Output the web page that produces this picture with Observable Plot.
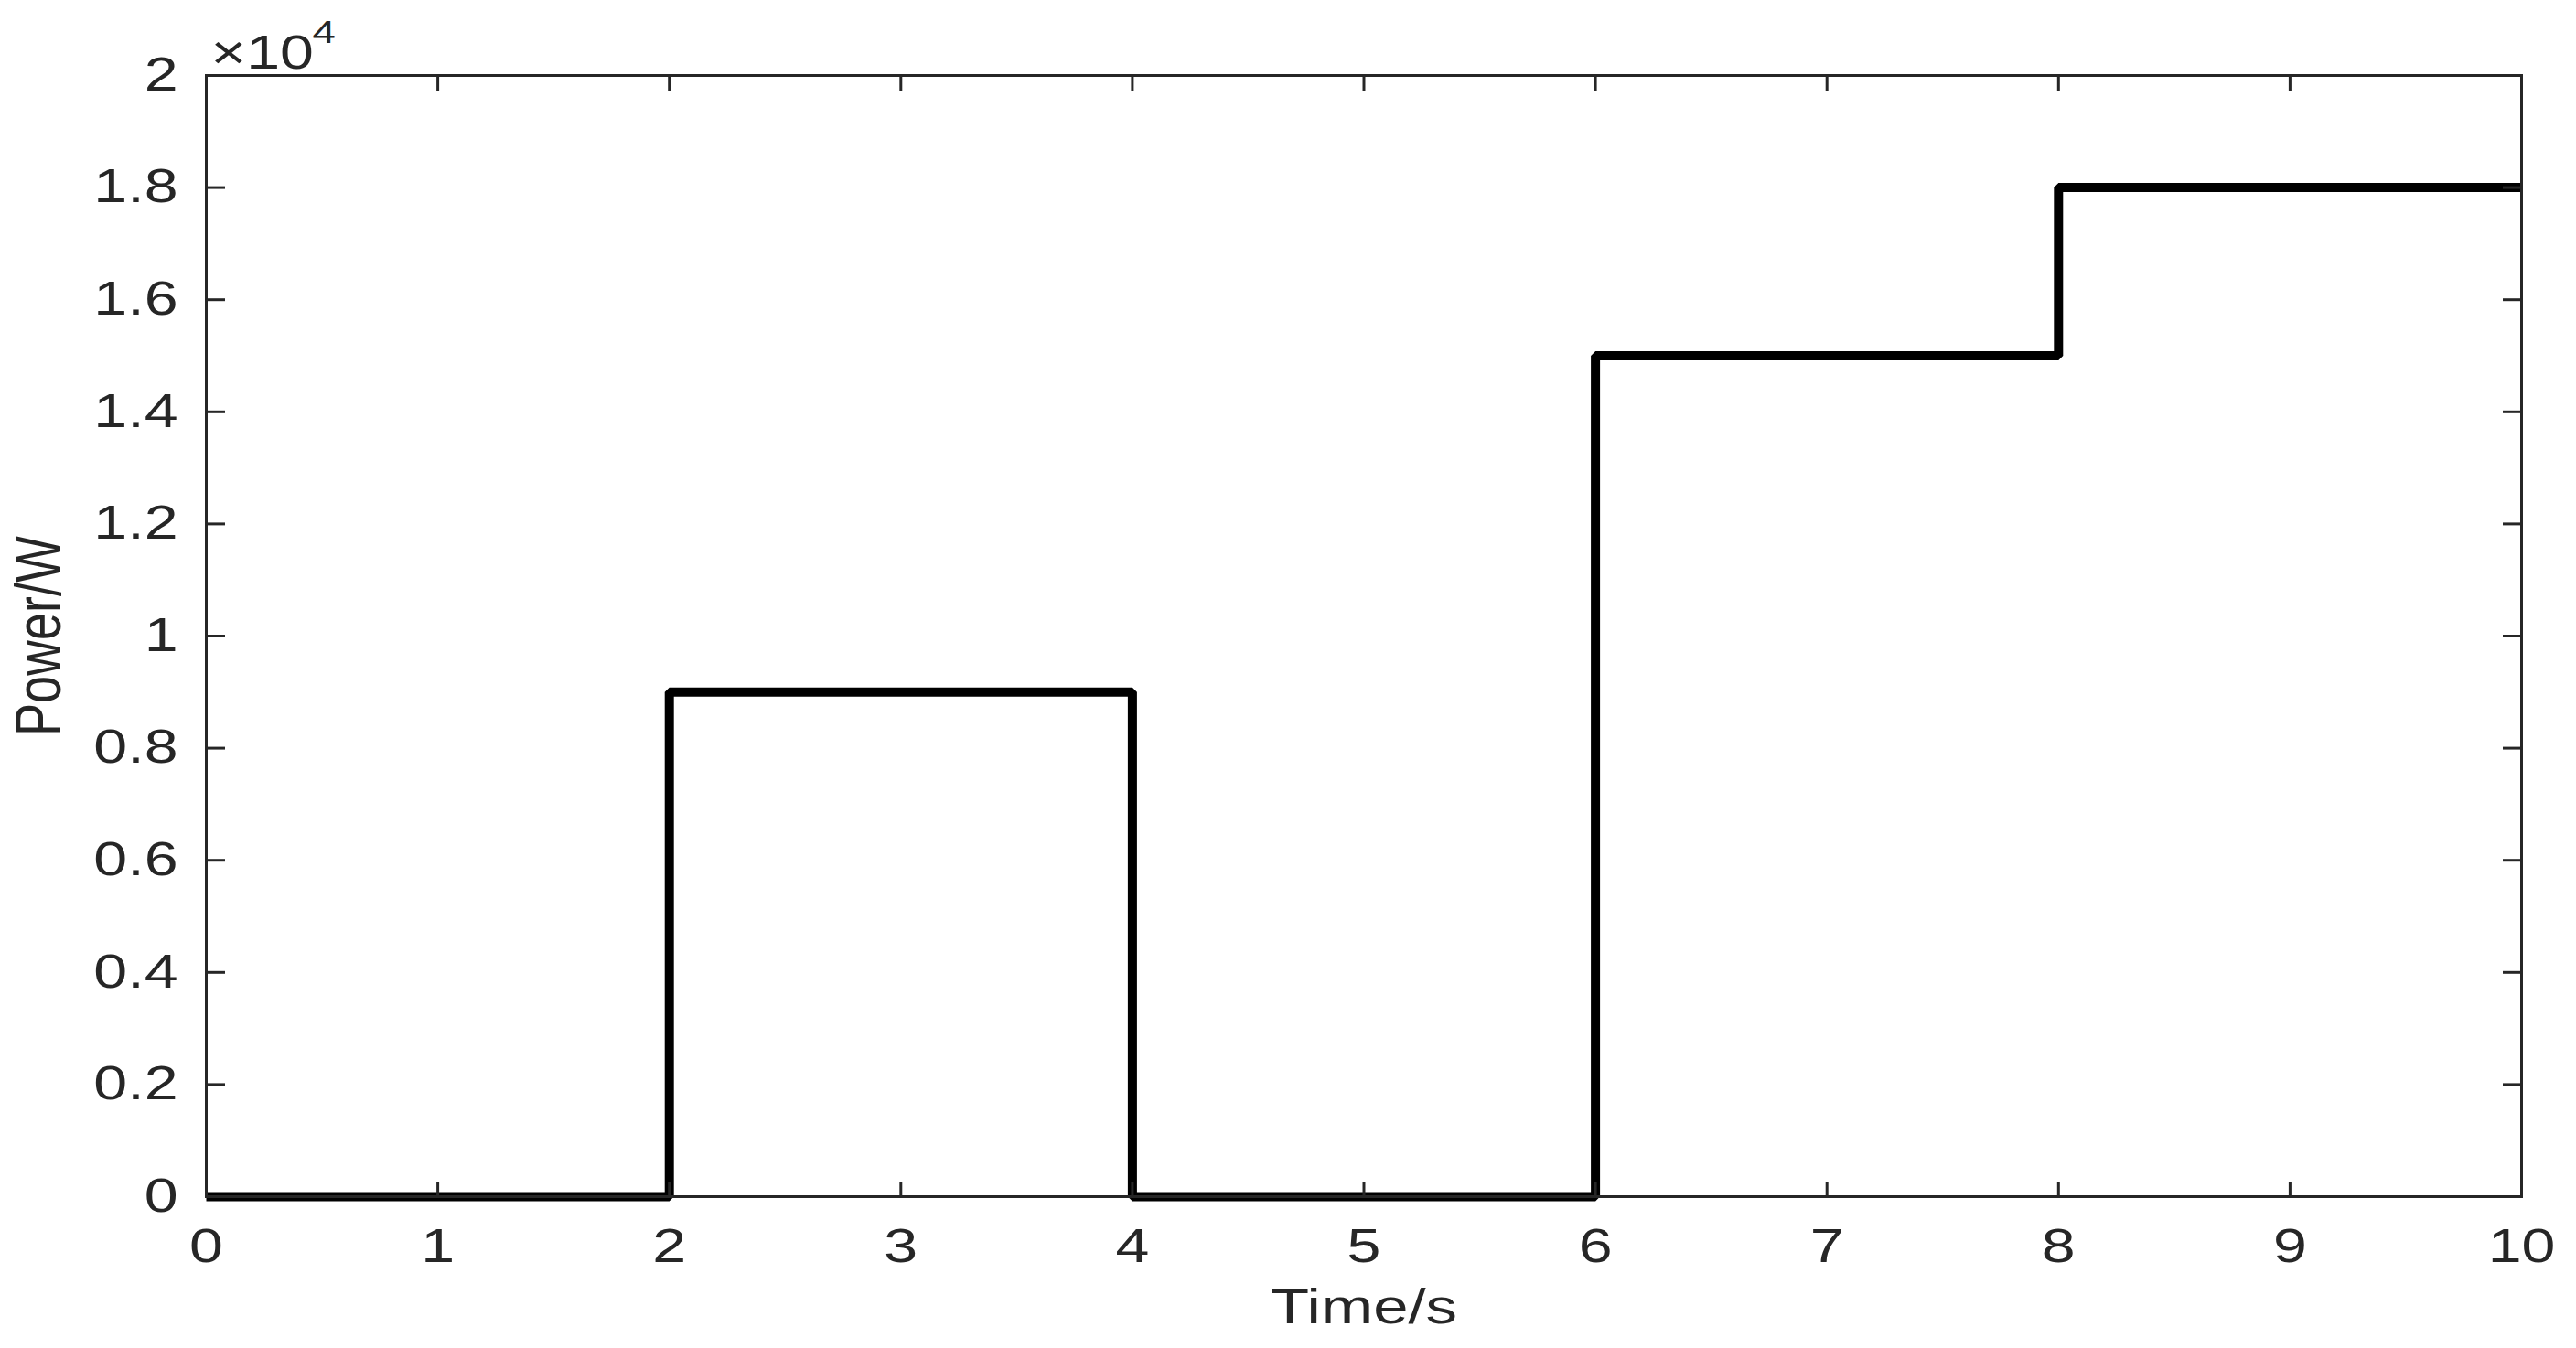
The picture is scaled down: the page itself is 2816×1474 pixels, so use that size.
<!DOCTYPE html>
<html>
<head>
<meta charset="utf-8">
<script src="https://cdn.jsdelivr.net/npm/d3@7"></script>
<script src="https://cdn.jsdelivr.net/npm/@observablehq/plot@0.6"></script>
<style>
  html, body { margin: 0; padding: 0; background: #ffffff; }
  #chart { width: 2816px; height: 1474px; overflow: hidden; }
</style>
</head>
<body>
<div id="chart"></div>
<script>
// ---- data ----
const times = [0, 2, 4, 6, 8, 10];
const power = [0, 9000, 0, 15000, 18000, 18000];
const xTicks = [0, 1, 2, 3, 4, 5, 6, 7, 8, 9, 10];
const yTicks = [0, 2000, 4000, 6000, 8000, 10000, 12000, 14000, 16000, 18000, 20000];
const yTickLabels = ["0", "0.2", "0.4", "0.6", "0.8", "1", "1.2", "1.4", "1.6", "1.8", "2"];
const xLabel = "Time/s";
const yLabel = "Power/W";
const exponentBase = "×10";
const exponent = "4";

const rows = times.map((t, i) => ({t, p: power[i]}));
const ink = "#262626";

const svg = Plot.plot({
  width: 2816,
  height: 1474,
  marginLeft: 225,
  marginRight: 60,
  marginTop: 82,
  marginBottom: 166,
  x: {domain: [0, 10], label: null},
  y: {domain: [0, 20000], label: null},
  style: {fontFamily: "'Liberation Sans', Arial, sans-serif", color: ink, background: "#ffffff"},
  marks: [
    Plot.line(rows, {x: "t", y: "p", curve: "step-after", stroke: "#000000", strokeWidth: 10, strokeLinejoin: "miter", strokeLinecap: "butt"}),
    Plot.frame({stroke: ink, strokeWidth: 3}),
    Plot.axisX(xTicks, {anchor: "bottom", tickSize: 0, tickPadding: 35, fontSize: 51, label: null, tickFormat: d => String(d)}),
    Plot.axisX(xTicks, {anchor: "bottom", tickSize: -16, fill: "none", strokeWidth: 3, label: null}),
    Plot.axisX(xTicks, {anchor: "top", tickSize: -16, fill: "none", strokeWidth: 3, label: null}),
    Plot.axisY(yTicks, {anchor: "left", tickSize: 0, tickPadding: 31, fontSize: 51, label: null, tickFormat: d => yTickLabels[yTicks.indexOf(d)]}),
    Plot.axisY(yTicks, {anchor: "left", tickSize: -21, fill: "none", strokeWidth: 3, label: null}),
    Plot.axisY(yTicks, {anchor: "right", tickSize: -21, fill: "none", strokeWidth: 3, label: null}),
    Plot.text([xLabel], {frameAnchor: "bottom", lineAnchor: "top", dy: 101, fontSize: 53, fill: ink}),
    Plot.text([yLabel], {frameAnchor: "left", textAnchor: "middle", rotate: -90, dx: -182, fontSize: 54, fill: ink}),
    Plot.text([exponentBase], {frameAnchor: "top-left", textAnchor: "start", dx: 5, dy: -44, fontSize: 51, fill: ink}),
    Plot.text([exponent], {frameAnchor: "top-left", textAnchor: "start", dx: 116, dy: -60, fontSize: 35, fill: ink})
  ]
});

// The reference's lettering is horizontally widened; widen each text about its anchor.
svg.querySelectorAll("text").forEach(t => {
  const tr = t.getAttribute("transform");
  const rotated = tr && tr.includes("rotate");
  const s = rotated ? " scale(1,1.3)" : " scale(1.3,1)";
  if (tr) {
    t.setAttribute("transform", tr + s);
  } else {
    const x = t.getAttribute("x") || 0, y = t.getAttribute("y") || 0;
    t.removeAttribute("x"); t.removeAttribute("y");
    t.setAttribute("transform", `translate(${x},${y})` + s);
  }
});

document.getElementById("chart").appendChild(svg);
</script>
</body>
</html>
